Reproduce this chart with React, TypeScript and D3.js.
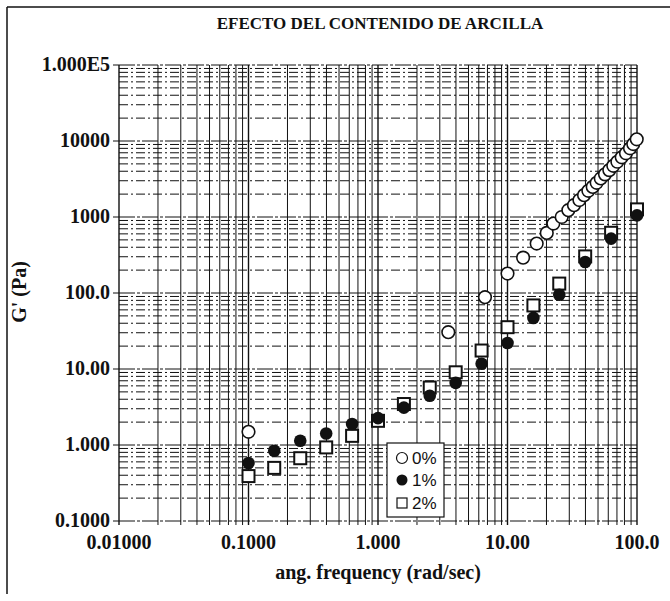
import React from "react";
import * as d3 from "d3";

// ---- data ----
const title = "EFECTO DEL CONTENIDO DE ARCILLA";
const xLabel = "ang. frequency (rad/sec)";
const yLabel = "G' (Pa)";

const freq0 = [0.1, 3.49, 6.7, 10.0, 13.2, 16.8, 20.1, 22.6, 26.2, 29.5, 32.6, 35.9, 39.0, 42.1, 45.5, 48.8, 52.5, 56.6, 61.1, 65.6, 70.5, 76.2, 82.2, 88.3, 93.6, 99.5];
const g0 = [1.49, 30.5, 88, 180, 292, 447, 618, 820, 1000, 1230, 1430, 1670, 1940, 2210, 2490, 2820, 3220, 3640, 4140, 4720, 5330, 6100, 6890, 8010, 9120, 10520];

const freq12 = [0.1, 0.158, 0.251, 0.398, 0.631, 1, 1.585, 2.51, 3.98, 6.31, 10, 15.85, 25.1, 39.8, 63.1, 100];
const g1 = [0.58, 0.84, 1.14, 1.42, 1.89, 2.26, 3.1, 4.45, 6.56, 11.7, 22, 47, 95, 256, 520, 1050];
const g2 = [0.39, 0.5, 0.67, 0.93, 1.32, 2.08, 3.46, 5.7, 9.05, 17.5, 35.5, 68.6, 133, 303, 620, 1260];

const legendLabels = ["0%", "1%", "2%"];

const xTickValues = [0.01, 0.1, 1, 10, 100];
const xTickLabels = ["0.01000", "0.1000", "1.000", "10.00", "100.0"];
const yTickValues = [0.1, 1, 10, 100, 1000, 10000, 100000];
const yTickLabels = ["0.1000", "1.000", "10.00", "100.0", "1000", "10000", "1.000E5"];

// ---- layout ----
const W = 670;
const H = 601;
const left = 119;
const right = 637;
const top = 65;
const bottom = 521;

const serif = "'Liberation Serif', 'DejaVu Serif', serif";
const sans = "'Liberation Sans', Arial, sans-serif";

function minorTicks(lo: number, hi: number) {
  const out: { v: number; major: boolean }[] = [];
  for (let e = lo; e < hi; e++) {
    for (let k = 1; k <= 9; k++) out.push({ v: k * Math.pow(10, e), major: k === 1 });
  }
  out.push({ v: Math.pow(10, hi), major: true });
  return out;
}

export default function App() {
  const x = d3.scaleLog().domain([0.01, 100]).range([left, right]);
  const y = d3.scaleLog().domain([0.1, 100000]).range([bottom, top]);

  const xGrid = minorTicks(-2, 2);
  const yGrid = minorTicks(-1, 5);

  const r = 6.3;
  const sq = 12;

  const s0 = freq0.map((f, i) => ({ f, v: g0[i] }));
  const s1 = freq12.map((f, i) => ({ f, v: g1[i] }));
  const s2 = freq12.map((f, i) => ({ f, v: g2[i] }));

  const legX = 387;
  const legY = 443;
  const legW = 57;
  const legH = 74;
  const legRows = [458, 480, 503];

  return (
    <svg
      width={W}
      height={H}
      viewBox={`0 0 ${W} ${H}`}
      style={{ position: "absolute", left: 0, top: 0, background: "#fff" }}
    >
      <rect x={0} y={0} width={W} height={H} fill="#fff" />
      {/* outer frame fragments */}
      <line x1={7} y1={7} x2={W} y2={7} stroke="#111" strokeWidth={1.5} />
      <line x1={7} y1={7} x2={7} y2={594} stroke="#111" strokeWidth={1.5} />

      {/* title */}
      <text
        x={380}
        y={29}
        textAnchor="middle"
        fontFamily={serif}
        fontWeight="bold"
        fontSize={17}
        fill="#111"
      >
        {title}
      </text>

      {/* horizontal grid */}
      {yGrid.map((t, i) => (
        <line
          key={"h" + i}
          x1={left}
          x2={right}
          y1={y(t.v)}
          y2={y(t.v)}
          stroke="#111"
          strokeWidth={1}
          strokeDasharray={t.major ? "16 2 3 2" : "9 3 2 3"}
        />
      ))}
      {/* vertical grid */}
      {xGrid.map((t, i) => (
        <line
          key={"v" + i}
          x1={x(t.v)}
          x2={x(t.v)}
          y1={top}
          y2={bottom + 4}
          stroke="#111"
          strokeWidth={t.major ? 1.4 : 1}
        />
      ))}

      {/* y ticks and labels */}
      {yTickValues.map((v, i) => (
        <g key={"yt" + i}>
          <line x1={left - 6} x2={left} y1={y(v)} y2={y(v)} stroke="#111" strokeWidth={1} />
          <text
            x={left - 9}
            y={y(v)}
            dy="0.3em"
            textAnchor="end"
            fontFamily={serif}
            fontWeight="bold"
            fontSize={20}
            fill="#111"
          >
            {yTickLabels[i]}
          </text>
        </g>
      ))}

      {/* x tick labels */}
      {xTickValues.map((v, i) => (
        <text
          key={"xt" + i}
          x={x(v)}
          y={549}
          textAnchor="middle"
          fontFamily={serif}
          fontWeight="bold"
          fontSize={20}
          fill="#111"
        >
          {xTickLabels[i]}
        </text>
      ))}

      {/* axis titles */}
      <text
        x={(left + right) / 2}
        y={579}
        textAnchor="middle"
        fontFamily={serif}
        fontWeight="bold"
        fontSize={20}
        fill="#111"
      >
        {xLabel}
      </text>
      <text
        transform={`translate(26, 292) rotate(-90)`}
        textAnchor="middle"
        fontFamily={serif}
        fontWeight="bold"
        fontSize={20}
        fill="#111"
      >
        {yLabel}
      </text>

      {/* 2% squares */}
      {s2.map((d, i) => (
        <rect
          key={"s2" + i}
          x={x(d.f) - sq / 2}
          y={y(d.v) - sq / 2}
          width={sq}
          height={sq}
          fill="#fff"
          stroke="#111"
          strokeWidth={2}
        />
      ))}
      {/* 1% filled circles */}
      {s1.map((d, i) => (
        <circle key={"s1" + i} cx={x(d.f)} cy={y(d.v)} r={r} fill="#111" />
      ))}
      {/* 0% open circles */}
      {s0.map((d, i) => (
        <circle
          key={"s0" + i}
          cx={x(d.f)}
          cy={y(d.v)}
          r={r}
          fill="#fff"
          stroke="#111"
          strokeWidth={1.6}
        />
      ))}

      {/* legend */}
      <rect x={legX} y={legY} width={legW} height={legH} fill="#fff" stroke="#111" strokeWidth={1.2} />
      <circle cx={402} cy={legRows[0]} r={5.5} fill="#fff" stroke="#111" strokeWidth={1.2} />
      <circle cx={402} cy={legRows[1]} r={5.5} fill="#111" />
      <rect x={397} y={legRows[2] - 5} width={10} height={10} fill="#fff" stroke="#111" strokeWidth={1.2} />
      {legendLabels.map((l, i) => (
        <text
          key={"lg" + i}
          x={412}
          y={legRows[i]}
          dy="0.36em"
          fontFamily={sans}
          fontSize={17}
          fill="#111"
        >
          {l}
        </text>
      ))}
    </svg>
  );
}
